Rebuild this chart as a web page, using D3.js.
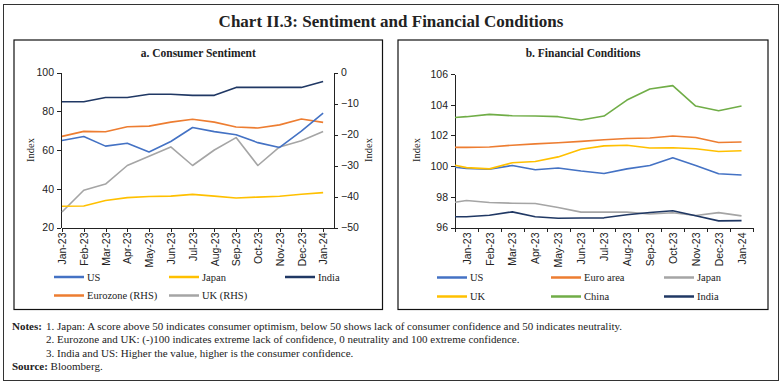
<!DOCTYPE html>
<html>
<head>
<meta charset="utf-8">
<script src="https://cdn.jsdelivr.net/npm/d3@7"></script>
<style>
  body { margin: 0; background: #fff; }
  svg { display: block; font-family: "Liberation Serif", "DejaVu Serif", serif; }
  .axis path, .axis line { stroke: #222; shape-rendering: crispEdges; }
  .axis text { fill: #222; font-size: 10.5px; }
  .series { fill: none; stroke-width: 1.6; stroke-linejoin: round; }
</style>
</head>
<body>
<svg id="chart" width="782" height="384"></svg>
<script>
// ---- data ----
const months = ["Jan-23", "Feb-23", "Mar-23", "Apr-23", "May-23", "Jun-23", "Jul-23",
                "Aug-23", "Sep-23", "Oct-23", "Nov-23", "Dec-23", "Jan-24"];

// a. Consumer sentiment (monthly)
const usSentiment = [64.9, 67.0, 62.0, 63.5, 59.0, 64.4, 71.6, 69.5, 67.9, 63.8, 61.3, 69.7, 79.0];
const japanSentiment = [31.0, 31.1, 33.9, 35.4, 36.0, 36.2, 37.1, 36.2, 35.2, 35.7, 36.1, 37.2, 38.0];
const indiaSentiment = [84.9, 84.9, 87.1, 87.1, 88.8, 88.8, 88.2, 88.2, 92.3, 92.3, 92.3, 92.3, 95.4];
const eurozoneSentiment = [-20.6, -19.0, -19.1, -17.5, -17.3, -16.0, -15.1, -16.0, -17.6, -17.9, -16.9, -15.0, -16.1];
const ukSentiment = [-45, -38, -36, -30, -27, -24, -30, -25, -21, -30, -24, -22, -19];

// b. Financial conditions (months since Jan 1 2023: start point then mid-month)
const fciTime = [0, 0.5, 1.5, 2.5, 3.5, 4.5, 5.5, 6.5, 7.5, 8.5, 9.5, 10.5, 11.5, 12.5];
const usFci = [99.93, 99.84, 99.80, 100.04, 99.76, 99.88, 99.68, 99.52, 99.82, 100.04, 100.54, 100.04, 99.50, 99.42];
const euroFci = [101.22, 101.22, 101.24, 101.36, 101.45, 101.52, 101.61, 101.72, 101.80, 101.83, 101.96, 101.86, 101.54, 101.57];
const japanFci = [97.65, 97.76, 97.63, 97.58, 97.56, 97.30, 97.00, 97.00, 97.00, 96.88, 96.96, 96.78, 96.97, 96.76];
const ukFci = [100.05, 99.90, 99.82, 100.22, 100.30, 100.60, 101.10, 101.32, 101.36, 101.18, 101.20, 101.13, 100.95, 101.00];
const chinaFci = [103.17, 103.22, 103.37, 103.28, 103.26, 103.22, 103.00, 103.26, 104.30, 105.02, 105.24, 103.91, 103.61, 103.91];
const indiaFci = [96.70, 96.70, 96.80, 97.02, 96.70, 96.60, 96.62, 96.63, 96.83, 96.98, 97.09, 96.76, 96.43, 96.45];

const leftTicksA = [20, 40, 60, 80, 100];
const rightTicksA = [-50, -40, -30, -20, -10, 0];
const ticksB = [96, 98, 100, 102, 104, 106];

const notes = [
  "1. Japan: A score above 50 indicates consumer optimism, below 50 shows lack of consumer confidence and 50 indicates neutrality.",
  "2. Eurozone and UK: (-)100 indicates extreme lack of confidence, 0 neutrality and 100 extreme confidence.",
  "3. India and US: Higher the value, higher is the consumer confidence."
];

const colors = {
  blue: "#4472c4", yellow: "#ffc000", navy: "#203864",
  orange: "#ed7d31", gray: "#a5a5a5", green: "#70ad47"
};

let svg = d3.select("#chart");

// frames and titles
svg.append("rect").attr("x", 3.5).attr("y", 4.5).attr("width", 775).attr("height", 376)
   .attr("fill", "none").attr("stroke", "#333").attr("stroke-width", 1);
svg.append("text").attr("x", 391).attr("y", 27).attr("text-anchor", "middle")
   .style("font-size", "17px").style("font-weight", "bold").attr("fill", "#222")
   .text("Chart II.3: Sentiment and Financial Conditions");

function panelFrame(x0, x1, title) {
  svg.append("rect").attr("x", x0).attr("y", 40).attr("width", x1 - x0).attr("height", 269.5)
     .attr("fill", "none").attr("stroke", "#111").attr("stroke-width", 1.2);
  svg.append("text").attr("x", (x0 + x1) / 2).attr("y", 57).attr("text-anchor", "middle")
     .style("font-size", "11.5px").style("font-weight", "bold").attr("fill", "#222").text(title);
}

function yTitle(x, y) {
  svg.append("text").attr("transform", `translate(${x},${y}) rotate(-90)`)
     .attr("text-anchor", "middle").attr("dy", "0.35em")
     .style("font-size", "10.5px").attr("fill", "#222").text("Index");
}

function rotateLabels(g) {
  g.selectAll("text")
    .attr("transform", "rotate(-90)")
    .attr("x", -5).attr("y", 0).attr("dy", "0.35em")
    .style("text-anchor", "end");
}

function legend(items, cols, rows) {
  items.forEach(function (d, i) {
    let lx = cols[i % 3], ly = rows[Math.floor(i / 3)];
    svg.append("line").attr("x1", lx).attr("x2", lx + 30).attr("y1", ly).attr("y2", ly)
       .attr("stroke", d.color).attr("stroke-width", 2.5);
    svg.append("text").attr("x", lx + 33).attr("y", ly).attr("dy", "0.35em")
       .style("font-size", "10.5px").attr("fill", "#222").text(d.name);
  });
}

// ---------- panel a ----------
panelFrame(14, 382.5, "a. Consumer Sentiment");

let xA = d3.scaleLinear().domain([0, 12.5]).range([62, 334]);
let yLeft = d3.scaleLinear().domain([20, 100]).range([227.5, 72.5]);
let yRight = d3.scaleLinear().domain([-50, 0]).range([227.5, 72.5]);

svg.append("g").attr("class", "axis").attr("transform", "translate(61,0)")
   .call(d3.axisLeft(yLeft).tickValues(leftTicksA).tickSize(4).tickSizeOuter(0));
svg.append("g").attr("class", "axis").attr("transform", "translate(334,0)")
   .call(d3.axisRight(yRight).tickValues(rightTicksA).tickSize(4).tickSizeOuter(0));
svg.append("g").attr("class", "axis").attr("transform", "translate(0,227.5)")
   .call(d3.axisBottom(xA).tickValues(d3.range(13)).tickFormat(i => months[i])
          .tickSize(4).tickSizeOuter(0))
   .call(rotateLabels);

yTitle(30, 150);
yTitle(368, 150);

let lineLeft = d3.line().x((d, i) => xA(i)).y(d => yLeft(d));
let lineRight = d3.line().x((d, i) => xA(i)).y(d => yRight(d));

const seriesA = [
  { name: "UK (RHS)", values: ukSentiment, color: colors.gray, gen: lineRight },
  { name: "Japan", values: japanSentiment, color: colors.yellow, gen: lineLeft },
  { name: "Eurozone (RHS)", values: eurozoneSentiment, color: colors.orange, gen: lineRight },
  { name: "US", values: usSentiment, color: colors.blue, gen: lineLeft },
  { name: "India", values: indiaSentiment, color: colors.navy, gen: lineLeft }
];
svg.append("g").selectAll("path").data(seriesA).join("path")
   .attr("class", "series").attr("stroke", d => d.color).attr("d", d => d.gen(d.values));

legend([
  { name: "US", color: colors.blue }, { name: "Japan", color: colors.yellow },
  { name: "India", color: colors.navy }, { name: "Eurozone (RHS)", color: colors.orange },
  { name: "UK (RHS)", color: colors.gray }
], [54, 169, 285], [277, 295.5]);

// ---------- panel b ----------
panelFrame(398, 768, "b. Financial Conditions");

let xB = d3.scaleLinear().domain([0, 13]).range([455, 753]);
let yB = d3.scaleLinear().domain([96, 106]).range([227.5, 74]);

svg.append("g").attr("class", "axis").attr("transform", "translate(455,0)")
   .call(d3.axisLeft(yB).tickValues(ticksB).tickSize(4).tickSizeOuter(0));
// tick marks sit between months, labels in the middle of each month
svg.append("g").attr("class", "axis").attr("transform", "translate(0,227.5)")
   .call(d3.axisBottom(xB).tickValues(d3.range(14)).tickFormat("").tickSize(4).tickSizeOuter(0));
svg.append("g").attr("class", "axis").attr("transform", "translate(0,227.5)")
   .call(d3.axisBottom(xB).tickValues(d3.range(13).map(i => i + 0.5))
          .tickFormat(v => months[Math.floor(v)]).tickSize(0))
   .call(g => g.select(".domain").remove())
   .call(rotateLabels);

yTitle(416, 150);

let lineB = d3.line().x((d, i) => xB(fciTime[i])).y(d => yB(d));
const seriesB = [
  { name: "Japan", values: japanFci, color: colors.gray },
  { name: "India", values: indiaFci, color: colors.navy },
  { name: "US", values: usFci, color: colors.blue },
  { name: "UK", values: ukFci, color: colors.yellow },
  { name: "Euro area", values: euroFci, color: colors.orange },
  { name: "China", values: chinaFci, color: colors.green }
];
svg.append("g").selectAll("path").data(seriesB).join("path")
   .attr("class", "series").attr("stroke", d => d.color).attr("d", d => lineB(d.values));

legend([
  { name: "US", color: colors.blue }, { name: "Euro area", color: colors.orange },
  { name: "Japan", color: colors.gray }, { name: "UK", color: colors.yellow },
  { name: "China", color: colors.green }, { name: "India", color: colors.navy }
], [437, 551, 664], [277.5, 296.5]);

// ---------- notes ----------
let noteY = [329.5, 343, 356.5];
svg.append("text").attr("x", 12).attr("y", noteY[0]).style("font-size", "11px")
   .style("font-weight", "bold").attr("fill", "#222").text("Notes:");
notes.forEach(function (t, i) {
  svg.append("text").attr("x", 46).attr("y", noteY[i]).style("font-size", "11px")
     .attr("fill", "#222").text(t);
});
svg.append("text").attr("x", 12).attr("y", 370).style("font-size", "11px").attr("fill", "#222")
   .call(t => t.append("tspan").style("font-weight", "bold").text("Source:"))
   .call(t => t.append("tspan").text(" Bloomberg."));
</script>
</body>
</html>
